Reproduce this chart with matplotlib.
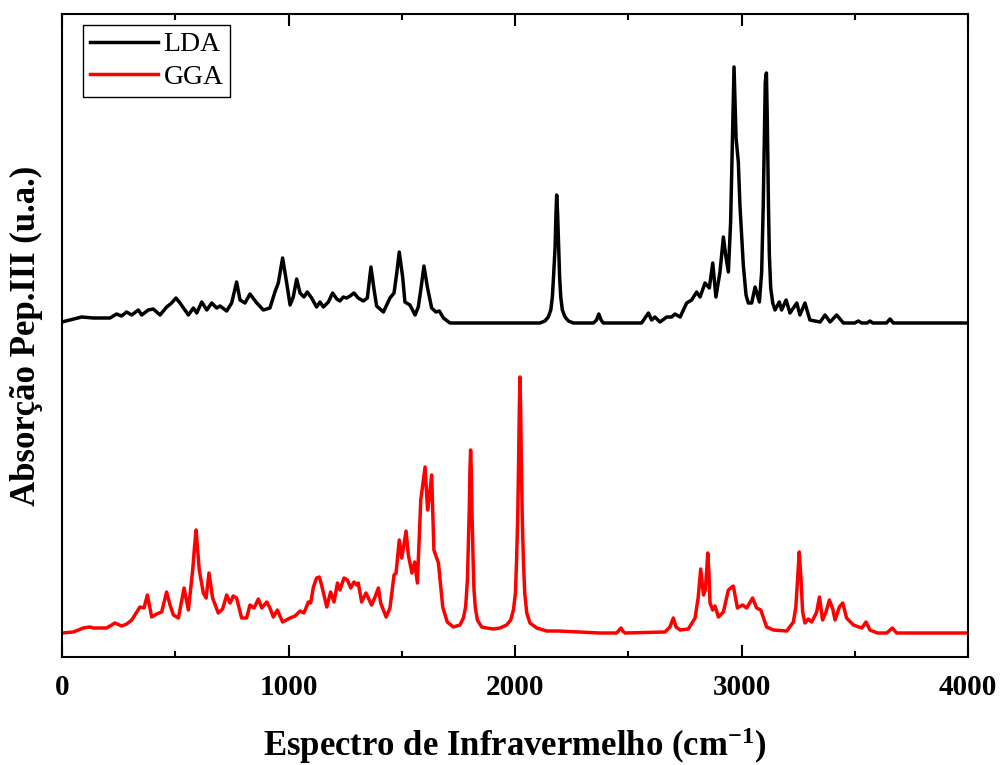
import matplotlib
matplotlib.use("Agg")
import matplotlib.pyplot as plt
from matplotlib.ticker import MultipleLocator

plt.rcParams["font.family"] = ["Liberation Serif", "DejaVu Serif"]
plt.rcParams["mathtext.default"] = "regular"

# LDA spectrum (black, drawn with vertical offset)
lda_x = [0, 87, 138, 212, 241, 263, 285, 308, 337, 352, 381, 403, 433, 462, 484, 503,
         521, 558, 580, 595, 617, 639, 661, 683, 698, 727, 749, 771, 786, 808, 830,
         860, 889, 918, 940, 955, 974, 992, 1007, 1021, 1036, 1051, 1068, 1083, 1102,
         1124, 1139, 1154, 1176, 1195, 1213, 1227, 1242, 1257, 1272, 1289, 1308, 1330,
         1348, 1364, 1378, 1389, 1419, 1448, 1466, 1478, 1489, 1504, 1514, 1536, 1559,
         1573, 1584, 1598, 1613, 1632, 1651, 1666, 1684, 1713, 1743, 1900, 2110, 2132,
         2147, 2158, 2165, 2171, 2177, 2181, 2184, 2188, 2193, 2197, 2202, 2209, 2221,
         2236, 2258, 2346, 2360, 2370, 2380, 2390, 2559, 2589, 2603,
         2618, 2640, 2670, 2692, 2706, 2729, 2758, 2780, 2802, 2817, 2839, 2858, 2873,
         2887, 2905, 2920, 2930, 2942, 2952, 2960, 2967, 2976, 2986, 2993, 3008, 3020,
         3030, 3045, 3060, 3079, 3089, 3096, 3101, 3105, 3110, 3114, 3119, 3123, 3129,
         3138, 3148, 3167, 3177, 3197, 3214, 3244, 3258, 3280, 3302, 3347, 3369, 3391,
         3420, 3450, 3500, 3516, 3530, 3555, 3567, 3580, 3640, 3656, 3670, 4000]
lda_y = [335, 340, 339, 339, 343, 341, 345, 342, 347, 342, 347, 348, 342, 350, 354, 359,
         354, 342, 349, 344, 355, 347, 354, 349, 351, 346, 354, 375, 357, 354, 363,
         354, 347, 349, 365, 374, 399, 374, 352, 360, 378, 364, 360, 365, 359,
         350, 355, 350, 355, 364, 358, 356, 360, 359, 361, 364, 359, 356,
         359, 390, 367, 351, 345, 359, 364, 384, 405, 380, 355, 352, 342,
         350, 367, 391, 370, 349, 345, 346, 339, 334, 334, 334, 334, 336,
         340, 347, 360, 384, 410, 444, 462, 444, 410, 380, 360, 347, 340,
         336, 334, 334, 337, 343, 337, 334, 334, 344, 337,
         340, 335, 340, 340, 343, 340, 354, 357, 365, 360, 374, 369, 394,
         360, 385, 420, 402, 385, 435, 519, 590, 519, 495, 452, 392, 362,
         354, 354, 370, 355, 385, 452, 519, 575, 584, 535, 452, 402, 369,
         354, 347, 355, 347, 357, 344, 354, 342, 354, 337, 335, 342, 335,
         342, 334, 334, 336, 334, 334, 336, 334, 334, 338, 334, 334]

# GGA spectrum (red)
gga_x = [0, 50, 94, 124, 138, 197, 234, 263, 286, 308, 344, 362, 377, 396, 418, 440,
         462, 477, 492, 514, 539, 558, 577, 585, 592, 598, 606, 624, 636, 649, 665, 690,
         709, 727, 742, 756, 771, 793, 815, 830, 848, 867, 882, 904, 918, 933, 951, 974,
         1007, 1029, 1051, 1068, 1088, 1098, 1110, 1124, 1136, 1146, 1169, 1186, 1201,
         1216, 1227, 1245, 1260, 1275, 1289, 1301, 1308, 1323, 1342, 1367, 1382, 1397,
         1407, 1431, 1448, 1466, 1475, 1489, 1500, 1519, 1529, 1545, 1557, 1569, 1584,
         1603, 1614, 1622, 1632, 1642, 1662, 1681, 1701, 1728, 1757, 1772, 1782, 1790,
         1794, 1798, 1801, 1804, 1807, 1810, 1815, 1819, 1825, 1834, 1853, 1875, 1904,
         1934, 1963, 1981, 1993, 2002, 2007, 2012, 2016, 2019, 2022, 2025, 2028, 2032,
         2037, 2043, 2052, 2066, 2096, 2140, 2191,
         2375, 2449, 2460, 2468, 2476, 2486, 2662, 2684, 2699, 2711, 2729, 2765, 2795,
         2809, 2820, 2832, 2840, 2846, 2851, 2856, 2861, 2873, 2883, 2898, 2920, 2942,
         2964, 2982, 3005, 3023, 3049, 3067, 3085, 3111, 3141, 3200, 3229, 3240, 3248,
         3255, 3262, 3270, 3280, 3295, 3310, 3332, 3344, 3358, 3373, 3388, 3403, 3413,
         3432, 3447, 3464, 3494, 3531, 3550, 3567, 3600, 3641, 3666, 3685, 4000]
gga_y = [24, 25, 29, 30, 29, 29, 34, 31, 33, 37, 50, 49, 62, 40, 43, 45,
         65, 52, 42, 39, 69, 47, 87, 110, 127, 110, 87, 64, 59, 84, 59, 44,
         48, 62, 54, 61, 59, 39, 39, 52, 49, 58, 49, 55, 49, 40, 47, 35,
         39, 41, 46, 44, 55, 54, 70, 79, 80, 72, 50, 65, 55,
         74, 67, 79, 77, 69, 75, 72, 74, 55, 64, 52, 60, 69,
         54, 40, 49, 82, 84, 117, 99, 126, 102, 84, 95, 74, 157,
         190, 147, 160, 182, 107, 94, 50, 35, 30, 32, 39, 50, 77,
         110, 147, 187, 207, 187, 147, 97, 67, 49, 37, 30, 29, 28,
         29, 32, 37, 47, 64, 97, 140, 197, 247, 280, 247, 197, 140,
         97, 64, 44, 34, 29, 26, 26,
         24, 24, 27, 29, 26, 24, 25, 30, 39, 30, 27, 28, 39,
         60, 88, 62, 67, 85, 104, 85, 54, 47, 51, 40, 45, 67,
         71, 49, 52, 49, 59, 49, 47, 30, 27, 26, 35, 50, 80,
         105, 80, 45, 34, 38, 35, 45, 60, 37, 45, 57, 48, 37,
         50, 54, 39, 32, 29, 35, 27, 24, 24, 29, 24, 24]

fig = plt.figure(figsize=(10.01, 7.65), dpi=100)
ax = fig.add_axes([62 / 1001, 108 / 765, 906 / 1001, 643 / 765])

ax.plot(lda_x, lda_y, color="black", lw=2.5, solid_joinstyle="round", label="LDA")
ax.plot(gga_x, gga_y, color="red", lw=2.5, solid_joinstyle="round", label="GGA")

ax.set_xlim(0, 4000)
ax.set_ylim(0, 643)
ax.set_yticks([])
ax.xaxis.set_major_locator(MultipleLocator(1000))
ax.xaxis.set_minor_locator(MultipleLocator(500))
ax.tick_params(axis="x", which="both", direction="in", top=True, width=1.5, pad=12)
ax.tick_params(axis="x", which="major", length=8.5)
ax.tick_params(axis="x", which="minor", length=4.5)
for lab in ax.get_xticklabels():
    lab.set_fontsize(21)
    lab.set_fontweight("bold")
for s in ax.spines.values():
    s.set_linewidth(1.5)

ax.set_xlabel("Espectro de Infravermelho (cm$^{-1}$)", fontsize=25, fontweight="bold", labelpad=18)
ax.set_ylabel("Absorção Pep.III (u.a.)", fontsize=25, fontweight="bold", labelpad=14)

leg = ax.legend(loc="upper left", bbox_to_anchor=(0.023, 0.983), borderaxespad=0,
                fontsize=20, handlelength=2.45, handletextpad=0.2, labelspacing=0.25,
                borderpad=0.25, fancybox=False, framealpha=1, edgecolor="black")
leg.get_frame().set_linewidth(1.0)
for h in leg.get_lines():
    h.set_linewidth(2.5)

fig.savefig("out.png", dpi=100)
